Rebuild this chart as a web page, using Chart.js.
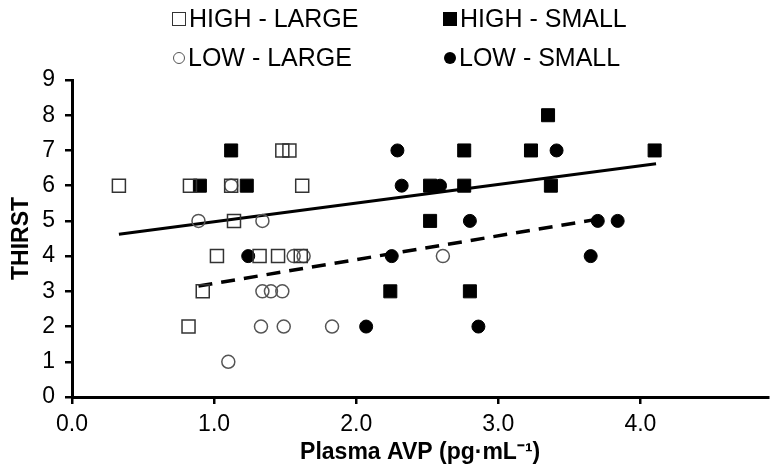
<!DOCTYPE html>
<html>
<head>
<meta charset="utf-8">
<script src="https://cdn.jsdelivr.net/npm/chart.js@4/dist/chart.umd.min.js"></script>
<style>
  body { margin: 0; background: #fff; }
  #wrap { position: relative; width: 779px; height: 476px; }
  #legend { position: absolute; left: 0; top: 0; width: 779px; height: 80px; font-family: "Liberation Sans Narrow", "Arial Narrow", "Liberation Sans", Arial, sans-serif; font-size: 25px; color: #000; }
  .item { position: absolute; display: flex; align-items: center; white-space: nowrap; }
  .sym { display: inline-block; box-sizing: border-box; margin-right: 3px; }
  .sq { width: 14px; height: 14px; }
  .ci { width: 12px; height: 12px; border-radius: 50%; }
</style>
</head>
<body>
<div id="wrap">
  <canvas id="chart" width="779" height="476"></canvas>
  <div id="legend"></div>
</div>
<script>
// Series (x = plasma AVP, y = thirst rating)
const highLargeX = [0.33, 0.83, 1.12, 1.62, 1.48, 1.53, 1.14, 1.02, 1.32, 1.45, 1.61, 0.92, 0.82];
const highLargeY = [6, 6, 6, 6, 7, 7, 5, 4, 4, 4, 4, 3, 2];

const highSmallX = [1.12, 2.76, 3.23, 4.10, 3.35, 0.90, 1.23, 2.52, 2.76, 3.37, 2.52, 2.24, 2.80];
const highSmallY = [7, 7, 7, 7, 8, 6, 6, 6, 6, 6, 5, 3, 3];

const lowLargeX = [1.12, 0.89, 1.34, 1.56, 1.63, 2.61, 1.34, 1.40, 1.48, 1.33, 1.49, 1.83, 1.10];
const lowLargeY = [6, 5, 5, 4, 4, 4, 3, 3, 3, 2, 2, 2, 1];

const lowSmallX = [2.29, 3.41, 2.32, 2.59, 2.80, 3.70, 3.84, 1.24, 2.25, 3.65, 2.07, 2.86];
const lowSmallY = [7, 7, 6, 6, 5, 5, 5, 4, 4, 4, 2, 2];

// Trend lines (end points)
const trendHighX = [0.33, 4.11];
const trendHighY = [4.62, 6.62];
const trendLowX = [0.89, 3.70];
const trendLowY = [3.15, 5.05];

const xTicks = [0, 1, 2, 3, 4];
const yTicks = [0, 1, 2, 3, 4, 5, 6, 7, 8, 9];

const legendItems = [
  { label: "HIGH - LARGE", cls: "sq", style: "border:1.5px solid #333;", left: 172, top: 4 },
  { label: "HIGH - SMALL", cls: "sq", style: "background:#000;", left: 443, top: 4 },
  { label: "LOW - LARGE", cls: "ci", style: "border:1.5px solid #555;", left: 173, top: 43 },
  { label: "LOW - SMALL", cls: "ci", style: "background:#000;", left: 444, top: 43 },
];

const legend = document.getElementById("legend");
legendItems.forEach((it) => {
  const el = document.createElement("div");
  el.className = "item";
  el.style.left = it.left + "px";
  el.style.top = it.top + "px";
  el.innerHTML = `<span class="sym ${it.cls}" style="${it.style}"></span><span>${it.label}</span>`;
  legend.appendChild(el);
});

const pts = (xs, ys) => xs.map((x, i) => ({ x: x, y: ys[i] }));

const family = "'Liberation Sans Narrow', 'Arial Narrow', 'Liberation Sans', Arial, sans-serif";
const font = { family: family, size: 23 };

new Chart(document.getElementById("chart"), {
  type: "scatter",
  data: {
    datasets: [
      { label: "HIGH - LARGE", data: pts(highLargeX, highLargeY), pointStyle: "rect", pointRadius: 9.2,
        backgroundColor: "rgba(0,0,0,0)", borderColor: "#333", borderWidth: 1.5 },
      { label: "LOW - LARGE", data: pts(lowLargeX, lowLargeY), pointStyle: "circle", pointRadius: 6.5,
        backgroundColor: "rgba(0,0,0,0)", borderColor: "#555", borderWidth: 1.5 },
      { label: "HIGH - SMALL", data: pts(highSmallX, highSmallY), pointStyle: "rect", pointRadius: 9.2,
        backgroundColor: "#000", borderColor: "#000", borderWidth: 1 },
      { label: "LOW - SMALL", data: pts(lowSmallX, lowSmallY), pointStyle: "circle", pointRadius: 6.5,
        backgroundColor: "#000", borderColor: "#000", borderWidth: 1 },
      { label: "trend high", data: pts(trendHighX, trendHighY), showLine: true, pointRadius: 0,
        borderColor: "#000", borderWidth: 3 },
      { label: "trend low", data: pts(trendLowX, trendLowY), showLine: true, pointRadius: 0,
        borderColor: "#000", borderWidth: 3.5, borderDash: [14, 9] },
    ],
  },
  options: {
    responsive: false,
    animation: false,
    layout: { padding: { top: 80, right: 10, left: 0, bottom: 0 } },
    plugins: { legend: { display: false }, tooltip: { enabled: false } },
    scales: {
      x: {
        type: "linear",
        min: 0,
        max: 4.9,
        afterBuildTicks: (s) => { s.ticks = xTicks.map((v) => ({ value: v })); },
        afterFit: (s) => { s.height = 79; },
        ticks: { color: "#000", font: font, padding: 7, maxRotation: 0, callback: (v) => v.toFixed(1) },
        grid: { drawOnChartArea: false, drawTicks: true, tickLength: 7, color: "#000", lineWidth: 2.5 },
        border: { color: "#000", width: 3 },
        title: { display: true, text: "Plasma AVP (pg·mL⁻¹)", color: "#000", padding: { top: 0, bottom: 10 },
          font: { family: family, size: 23, weight: "bold" } },
      },
      y: {
        type: "linear",
        min: 0,
        max: 9,
        afterBuildTicks: (s) => { s.ticks = yTicks.map((v) => ({ value: v })); },
        afterFit: (s) => { s.width = 72; },
        ticks: { color: "#000", font: font, padding: 10 },
        grid: { drawOnChartArea: false, drawTicks: true, tickLength: 7, color: "#000", lineWidth: 2.5 },
        border: { color: "#000", width: 3 },
        title: { display: true, text: "THIRST", color: "#000", padding: { top: 8, bottom: 0 },
          font: { family: family, size: 23, weight: "bold" } },
      },
    },
  },
});
</script>
</body>
</html>
